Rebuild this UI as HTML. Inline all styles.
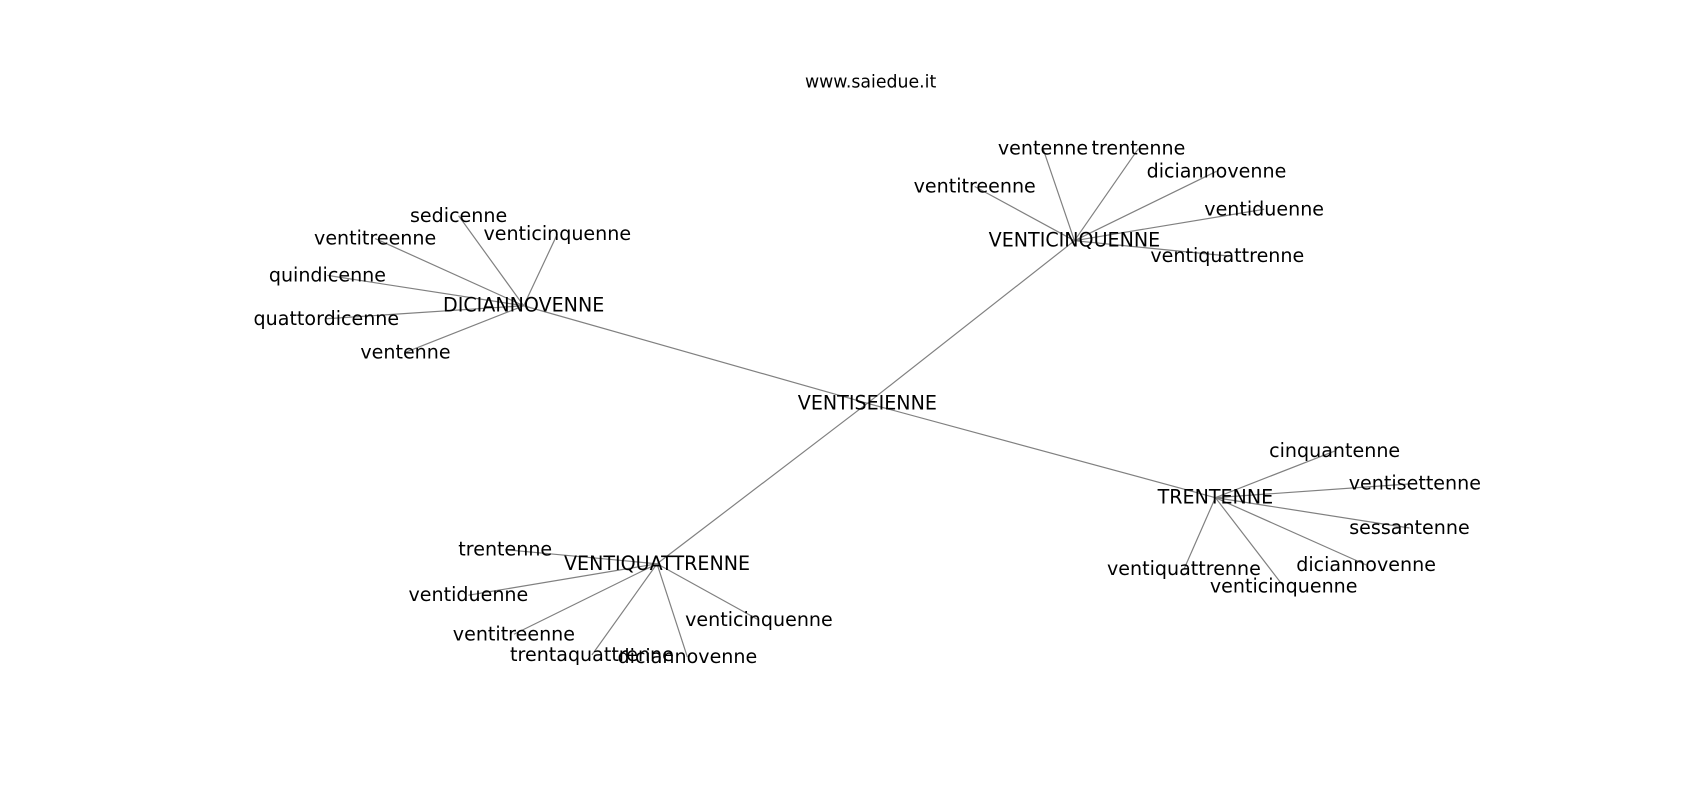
<!DOCTYPE html>
<html><head><meta charset="utf-8"><style>
html,body{margin:0;padding:0;background:#fff;}
svg{display:block;}
text{font-family:"DejaVu Sans","Liberation Sans",sans-serif;font-size:17.6px;fill:#000;text-anchor:middle;dominant-baseline:central;}
line{stroke:#808080;stroke-width:1.1;}
</style></head><body>
<svg width="1700" height="800" viewBox="0 0 1700 800" xmlns="http://www.w3.org/2000/svg">
<g transform="scale(1.0842)">
<text x="803" y="76" style="font-size:16px">www.saiedue.it</text>
<g>
<line x1="800" y1="372" x2="483" y2="282"/>
<line x1="800" y1="372" x2="991" y2="222"/>
<line x1="800" y1="372" x2="1121" y2="459"/>
<line x1="800" y1="372" x2="606" y2="520"/>
<line x1="483" y1="282" x2="423" y2="199"/>
<line x1="483" y1="282" x2="346" y2="220"/>
<line x1="483" y1="282" x2="514" y2="216"/>
<line x1="483" y1="282" x2="302" y2="254"/>
<line x1="483" y1="282" x2="301" y2="294"/>
<line x1="483" y1="282" x2="374" y2="325"/>
<line x1="991" y1="222" x2="962" y2="137"/>
<line x1="991" y1="222" x2="1050" y2="137"/>
<line x1="991" y1="222" x2="1122" y2="158"/>
<line x1="991" y1="222" x2="899" y2="172"/>
<line x1="991" y1="222" x2="1166" y2="193"/>
<line x1="991" y1="222" x2="1132" y2="236"/>
<line x1="1121" y1="459" x2="1231" y2="416"/>
<line x1="1121" y1="459" x2="1305" y2="446"/>
<line x1="1121" y1="459" x2="1300" y2="487"/>
<line x1="1121" y1="459" x2="1260" y2="521"/>
<line x1="1121" y1="459" x2="1092" y2="525"/>
<line x1="1121" y1="459" x2="1184" y2="541"/>
<line x1="606" y1="520" x2="466" y2="507"/>
<line x1="606" y1="520" x2="432" y2="549"/>
<line x1="606" y1="520" x2="474" y2="585"/>
<line x1="606" y1="520" x2="546" y2="604"/>
<line x1="606" y1="520" x2="634" y2="606"/>
<line x1="606" y1="520" x2="700" y2="572"/>
</g>
<text x="800" y="372">VENTISEIENNE</text>
<text x="483" y="282">DICIANNOVENNE</text>
<text x="991" y="222">VENTICINQUENNE</text>
<text x="1121" y="459">TRENTENNE</text>
<text x="606" y="520">VENTIQUATTRENNE</text>
<text x="423" y="199">sedicenne</text>
<text x="346" y="220">ventitreenne</text>
<text x="514" y="216">venticinquenne</text>
<text x="302" y="254">quindicenne</text>
<text x="301" y="294">quattordicenne</text>
<text x="374" y="325">ventenne</text>
<text x="962" y="137">ventenne</text>
<text x="1050" y="137">trentenne</text>
<text x="1122" y="158">diciannovenne</text>
<text x="899" y="172">ventitreenne</text>
<text x="1166" y="193">ventiduenne</text>
<text x="1132" y="236">ventiquattrenne</text>
<text x="1231" y="416">cinquantenne</text>
<text x="1305" y="446">ventisettenne</text>
<text x="1300" y="487">sessantenne</text>
<text x="1260" y="521">diciannovenne</text>
<text x="1092" y="525">ventiquattrenne</text>
<text x="1184" y="541">venticinquenne</text>
<text x="466" y="507">trentenne</text>
<text x="432" y="549">ventiduenne</text>
<text x="474" y="585">ventitreenne</text>
<text x="546" y="604">trentaquattrenne</text>
<text x="634" y="606">diciannovenne</text>
<text x="700" y="572">venticinquenne</text>
</g>
</svg>
</body></html>
